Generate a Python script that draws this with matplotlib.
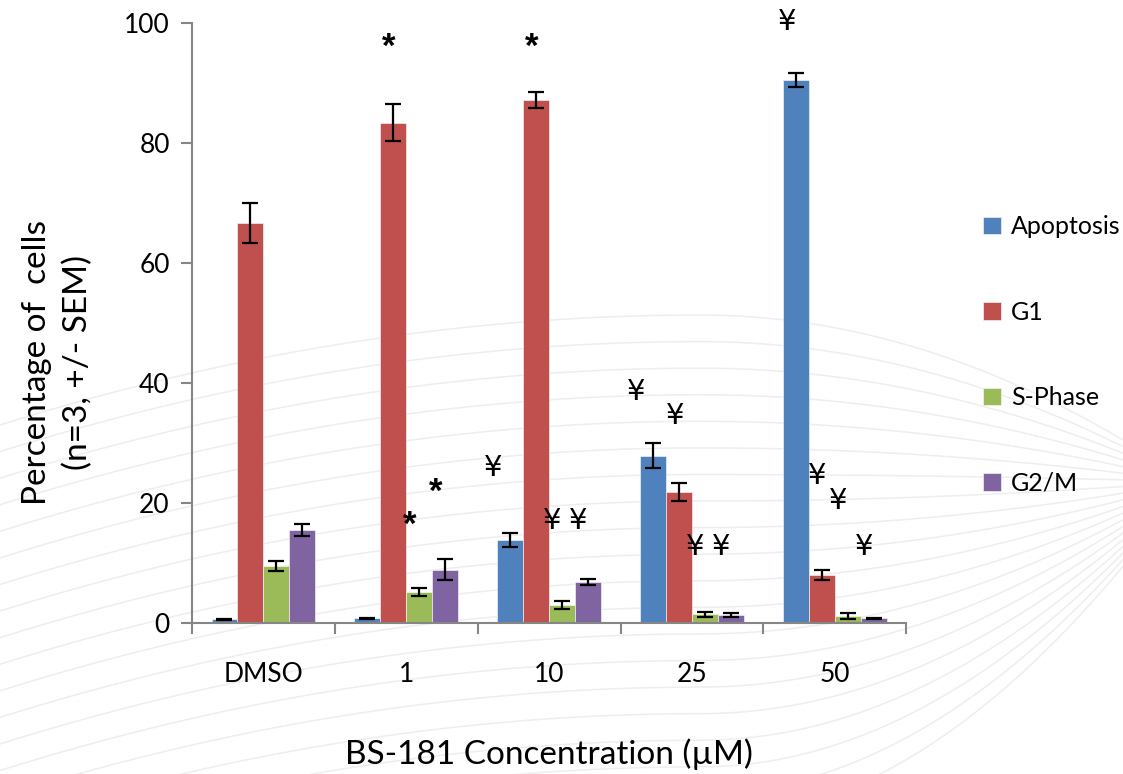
import matplotlib
matplotlib.use("Agg")
import matplotlib.pyplot as plt
import numpy as np

plt.rcParams['font.family'] = ['Lato', 'DejaVu Sans']

# data
categories = ["DMSO", "1", "10", "25", "50"]
series = ["Apoptosis", "G1", "S-Phase", "G2/M"]
colors = ["#4F81BD", "#C0504D", "#9BBB59", "#8064A2"]

apoptosis = [0.6, 0.8, 13.8, 27.9, 90.5]
g1 = [66.7, 83.4, 87.2, 21.8, 8.0]
s_phase = [9.5, 5.2, 3.0, 1.45, 1.1]
g2m = [15.5, 8.9, 6.8, 1.3, 0.8]

apoptosis_err = [0.1, 0.1, 1.2, 2.1, 1.2]
g1_err = [3.3, 3.1, 1.3, 1.5, 0.9]
s_phase_err = [0.8, 0.65, 0.7, 0.45, 0.5]
g2m_err = [1.0, 1.8, 0.5, 0.3, 0.1]

# significance marks: (category, series index, y, symbol)
marks = [
    (1, 1, 96, "*"), (1, 2, 16.3, "*"), (1, 3, 21.8, "*"),
    (2, 0, 25.8, "¥"), (2, 1, 96, "*"), (2, 2, 17, "¥"), (2, 3, 17, "¥"),
    (3, 0, 38.5, "¥"), (3, 1, 34.5, "¥"), (3, 2, 12.7, "¥"), (3, 3, 12.7, "¥"),
    (4, 0, 100.2, "¥"), (4, 1, 24.5, "¥"), (4, 2, 20.4, "¥"), (4, 3, 12.7, "¥"),
]

values = [apoptosis, g1, s_phase, g2m]
errors = [apoptosis_err, g1_err, s_phase_err, g2m_err]

fig = plt.figure(figsize=(11.23, 7.74), dpi=100)

# faint wavy background pattern (slide template)
bg = fig.add_axes([0, 0, 1, 1], zorder=-5)
bg.set_xlim(0, 1123)
bg.set_ylim(774, 0)
bg.axis("off")
xx = np.linspace(0, 1123, 400)
tops = np.linspace(315, 820, 20)
for k, top in enumerate(tops):
    end = 440 + 0.25 * (top - 315)
    left = top + 110 * ((xx - 700) / 700) ** 2
    right = top + (end - top) * ((xx - 700) / 423) ** 2
    yy = np.where(xx < 700, left, right)
    bg.plot(xx, yy, color="#eeeeee", lw=1.1)

ax = fig.add_axes([0.171, 0.195, 0.636, 0.775])

x = np.arange(len(categories))
width = 1.0 / 5.5
offsets = (np.arange(4) - 1.5) * width

for i in range(4):
    ax.bar(x + offsets[i], values[i], width, color=colors[i], label=series[i],
           yerr=errors[i], error_kw=dict(ecolor="black", elinewidth=1.6,
                                         capsize=6, capthick=1.6),
           edgecolor="white", linewidth=0.4, zorder=2)

# marks sit a little left of their bar centre
shift = [-0.12, -0.03, -0.07, -0.07]
for cat, s, yv, sym in marks:
    xs = x[cat] + offsets[s] + shift[s]
    if cat == 4 and s == 0:
        xs = x[cat] + offsets[s] - 0.06
    if sym == "*":
        ax.text(xs, yv, sym, ha="center", va="center", fontsize=25,
                fontweight="bold", family=["Liberation Sans"], color="black")
    else:
        ax.text(xs, yv, sym, ha="center", va="center", fontsize=21,
                family=["DejaVu Sans"], color="black")

ax.set_xlim(-0.5, 4.5)
ax.set_ylim(0, 100)
ax.set_yticks([0, 20, 40, 60, 80, 100])
ax.set_xticks(np.arange(-0.5, 5, 1.0))
ax.set_xticklabels([])
ax.set_xticks(x, minor=True)
ax.set_xticklabels(categories, minor=True)
ax.tick_params(axis="x", which="major", length=8, width=1.5, color="#868686",
               direction="out")
ax.tick_params(axis="x", which="minor", length=0, labelsize=19, pad=28)
ax.tick_params(axis="y", length=8, width=1.5, color="#868686", labelsize=19,
               pad=8)

for sp in ["top", "right"]:
    ax.spines[sp].set_visible(False)
for sp in ["left", "bottom"]:
    ax.spines[sp].set_color("#868686")
    ax.spines[sp].set_linewidth(1.5)
ax.patch.set_alpha(0)

ax.set_xlabel("BS-181 Concentration (µM)", fontsize=24, labelpad=37)
ax.set_ylabel("Percentage of  cells\n(n=3, +/- SEM)", fontsize=24,
              linespacing=1.45)
ax.yaxis.set_label_coords(-0.138, 0.435)

fig.legend(loc="upper left", bbox_to_anchor=(0.855, 0.751), frameon=False,
           fontsize=18, handlelength=0.72, handleheight=0.72,
           handletextpad=0.4, labelspacing=2.5)

fig.savefig("out.png", dpi=100)
